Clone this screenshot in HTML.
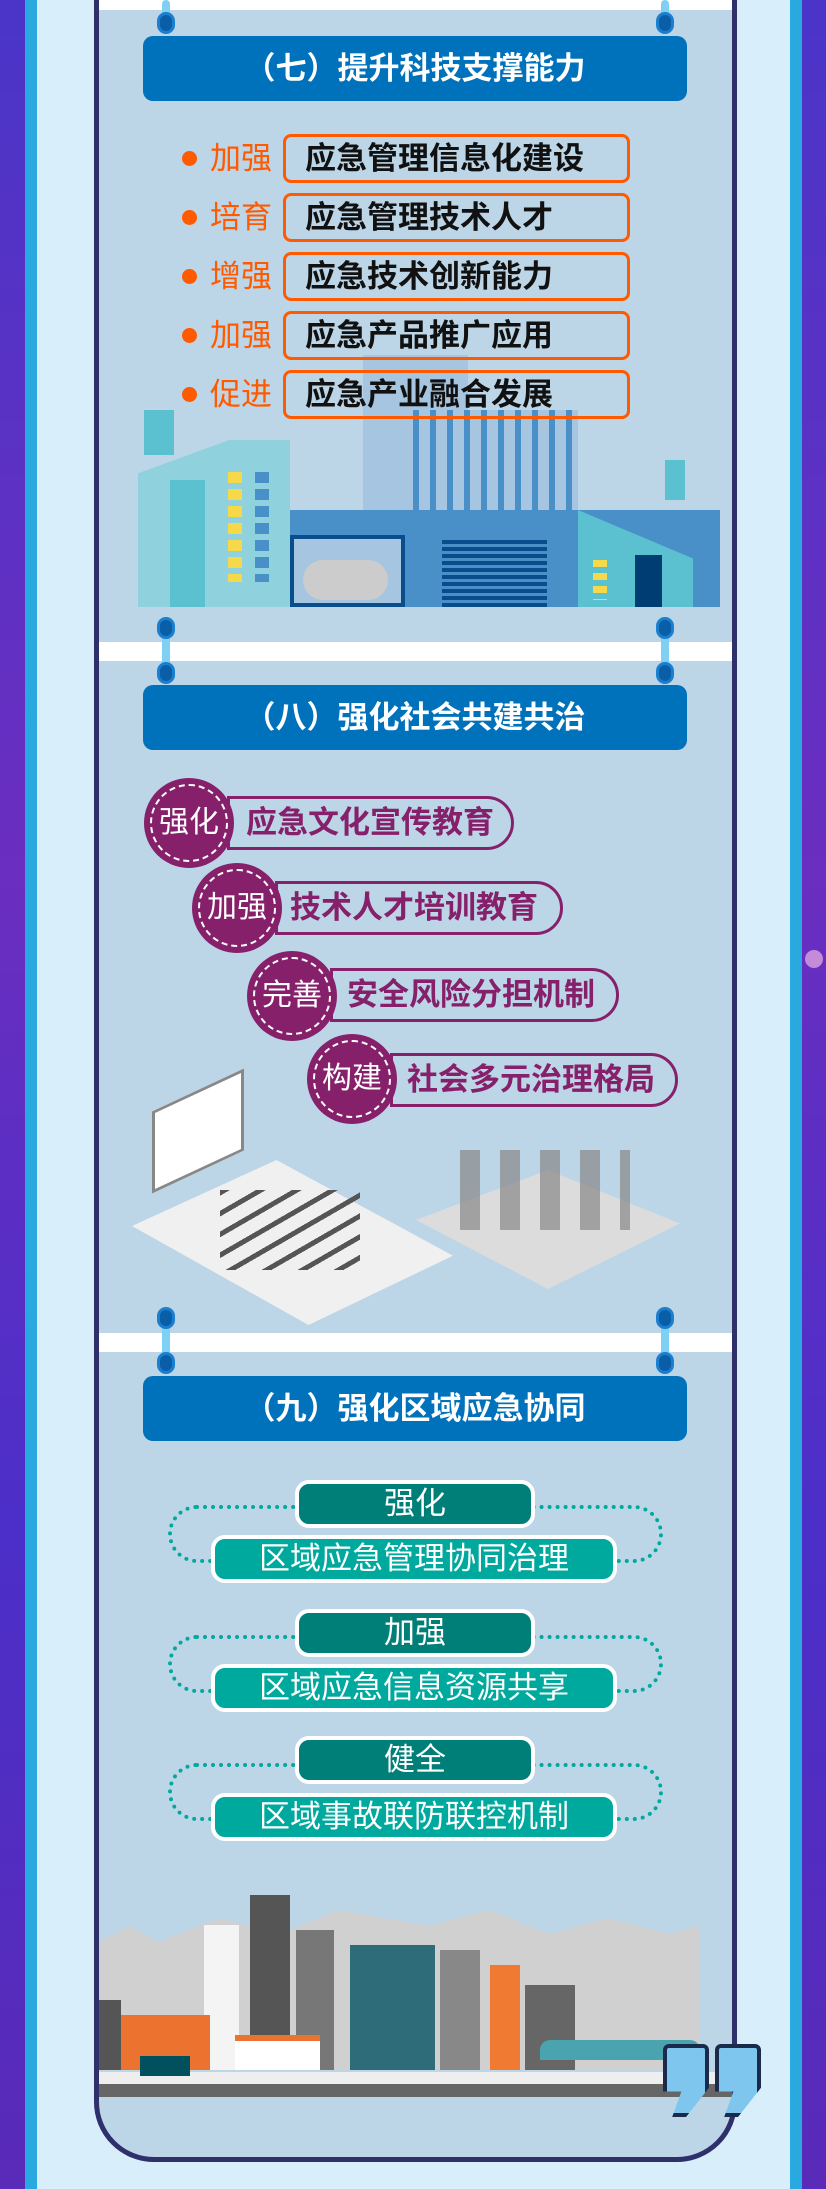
<!DOCTYPE html>
<html><head><meta charset="utf-8"><style>
*{margin:0;padding:0;box-sizing:border-box}
body{width:826px;height:2189px;position:relative;overflow:hidden;background:linear-gradient(180deg,#4a35c8,#6a2ec0 40%,#4b2fc8 70%,#5a2ab8);font-family:"Liberation Sans","Noto Sans CJK SC",sans-serif}
.a{position:absolute}
.hdr{position:absolute;left:143px;width:544px;height:65px;background:#0071bb;border-radius:10px;color:#fff;font-size:31px;font-weight:bold;text-align:center;line-height:65px;letter-spacing:0px}
.strip{position:absolute;left:99px;width:633px;height:19px;background:#fff}
.hook{position:absolute;width:18px;height:22px;border-radius:9px;background:#0a5ea8;border:3px solid #1b7fd0}
.hookbar{position:absolute;width:8px;background:#7fd0f5;border-radius:4px}
.row{position:absolute;left:283px;width:347px;height:49px;border:3px solid #ff5a00;border-radius:8px;font-size:31px;font-weight:bold;color:#111;line-height:43px;padding-left:19px;white-space:nowrap}
.dot{position:absolute;left:182px;width:15px;height:15px;border-radius:50%;background:#ff5a00}
.lab{position:absolute;left:210px;font-size:31px;color:#ff5a00;line-height:49px}
.pill{position:absolute;height:54px;border:3px solid #86206a;border-radius:0 27px 27px 0;color:#86206a;font-size:31px;font-weight:bold;line-height:48px;white-space:nowrap}
.circ{position:absolute;width:90px;height:90px;border-radius:50%;background:#86206a}
.circ div{position:absolute;left:6px;top:6px;width:78px;height:78px;border-radius:50%;border:2px dashed #fff;color:#fff;font-size:30px;text-align:center;line-height:74px;white-space:nowrap}
.tp{position:absolute;left:295px;width:240px;height:48px;background:#007f78;border:4px solid #fff;border-radius:14px;color:#fff;font-size:31px;text-align:center;line-height:40px}
.bp{position:absolute;left:211px;width:406px;height:48px;background:#00a99d;border:4px solid #fff;border-radius:14px;color:#fff;font-size:31px;text-align:center;line-height:40px;white-space:nowrap}
.loop{position:absolute;left:168px;width:495px;height:58px;border:4px dotted #00a99d;border-radius:30px}
</style></head><body>
<div class="a" style="left:25px;top:0;width:12px;height:2189px;background:#2aa9e0"></div>
<div class="a" style="left:790px;top:0;width:12px;height:2189px;background:#2aa9e0"></div>
<div class="a" style="left:37px;top:0;width:753px;height:2189px;background:#d8eefb"></div>
<div class="a" style="left:94px;top:-60px;width:643px;height:2222px;background:#bcd5e7;border:5px solid #2e2f6b;border-radius:0 0 60px 60px"></div>
<div class="a" style="left:805px;top:950px;width:18px;height:18px;border-radius:50%;background:#c58ad8"></div>

<div class="strip" style="top:0;height:10px"></div>
<div class="hookbar" style="left:162px;top:0;height:22px"></div>
<div class="hookbar" style="left:661px;top:0;height:22px"></div>
<div class="hook" style="left:157px;top:12px"></div>
<div class="hook" style="left:656px;top:12px"></div>

<div class="hdr" style="top:36px">（七）提升科技支撑能力</div>

<div class="a" style="left:138px;top:410px;width:555px;height:197px">
 <div class="a" style="left:6px;top:0;width:30px;height:45px;background:#5bc0cf"></div>
 <div class="a" style="left:0;top:30px;width:152px;height:167px;background:#8fd1dc;clip-path:polygon(0 20%,60% 0,100% 0,100% 100%,0 100%)"></div>
 <div class="a" style="left:32px;top:70px;width:35px;height:127px;background:#5bc0cf"></div>
 <div class="a" style="left:90px;top:62px;width:14px;height:110px;background:repeating-linear-gradient(#f5d94a 0 11px,transparent 11px 17px)"></div>
 <div class="a" style="left:117px;top:62px;width:14px;height:110px;background:repeating-linear-gradient(#4a90c8 0 11px,transparent 11px 17px)"></div>
 <div class="a" style="left:225px;top:-55px;width:105px;height:250px;background:#a5c5e0"></div>
 <div class="a" style="left:275px;top:0;width:165px;height:100px;background:repeating-linear-gradient(90deg,#4a90c8 0 6px,#a5c5e0 6px 17px)"></div>
 <div class="a" style="left:152px;top:100px;width:430px;height:97px;background:#4a90c8"></div>
 <div class="a" style="left:152px;top:125px;width:115px;height:72px;background:#a5c5e0;border:4px solid #0a4d8c"></div>
 <div class="a" style="left:165px;top:150px;width:85px;height:40px;background:#ccc;border-radius:20px"></div>
 <div class="a" style="left:304px;top:130px;width:105px;height:67px;background:repeating-linear-gradient(#0a4d8c 0 4px,#4a90c8 4px 7px)"></div>
 <div class="a" style="left:440px;top:100px;width:115px;height:97px;background:#5bc0cf;clip-path:polygon(0 0,100% 50%,100% 100%,0 100%)"></div>
 <div class="a" style="left:527px;top:50px;width:20px;height:40px;background:#5bc0cf"></div>
 <div class="a" style="left:497px;top:145px;width:27px;height:52px;background:#003d73"></div>
 <div class="a" style="left:455px;top:150px;width:14px;height:40px;background:repeating-linear-gradient(#f5d94a 0 7px,transparent 7px 13px)"></div>
</div>

<div class="dot" style="top:151px"></div><div class="lab" style="top:134px">加强</div><div class="row" style="top:134px">应急管理信息化建设</div>
<div class="dot" style="top:210px"></div><div class="lab" style="top:193px">培育</div><div class="row" style="top:193px">应急管理技术人才</div>
<div class="dot" style="top:269px"></div><div class="lab" style="top:252px">增强</div><div class="row" style="top:252px">应急技术创新能力</div>
<div class="dot" style="top:328px"></div><div class="lab" style="top:311px">加强</div><div class="row" style="top:311px">应急产品推广应用</div>
<div class="dot" style="top:387px"></div><div class="lab" style="top:370px">促进</div><div class="row" style="top:370px">应急产业融合发展</div>

<div class="strip" style="top:642px"></div>
<div class="hookbar" style="left:162px;top:630px;height:45px"></div>
<div class="hookbar" style="left:661px;top:630px;height:45px"></div>
<div class="hook" style="left:157px;top:617px"></div><div class="hook" style="left:656px;top:617px"></div>
<div class="hook" style="left:157px;top:662px"></div><div class="hook" style="left:656px;top:662px"></div>
<div class="hdr" style="top:685px">（八）强化社会共建共治</div>

<div class="pill" style="left:227px;top:796px;width:287px;padding-left:16px">应急文化宣传教育</div>
<div class="circ" style="left:144px;top:778px"><div>强化</div></div>
<div class="pill" style="left:275px;top:881px;width:288px;padding-left:12px">技术人才培训教育</div>
<div class="circ" style="left:192px;top:863px"><div>加强</div></div>
<div class="pill" style="left:330px;top:968px;width:289px;padding-left:14px">安全风险分担机制</div>
<div class="circ" style="left:247px;top:951px"><div>完善</div></div>
<div class="pill" style="left:390px;top:1053px;width:288px;padding-left:14px">社会多元治理格局</div>
<div class="circ" style="left:307px;top:1034px"><div>构建</div></div>

<div class="a" style="left:152px;top:1090px;width:92px;height:82px;background:#fff;border:3px solid #888;transform:skewY(-25deg)"></div>
<div class="a" style="left:132px;top:1160px;width:321px;height:165px;background:#f0f0f0;clip-path:polygon(0 40%,45% 0,100% 58%,55% 100%);"></div>
<div class="a" style="left:220px;top:1190px;width:140px;height:80px;background:repeating-linear-gradient(150deg,#555 0 5px,transparent 5px 18px)"></div>
<div class="a" style="left:416px;top:1170px;width:264px;height:119px;background:#dcdcdc;clip-path:polygon(0 42%,50% 0,100% 45%,50% 100%)"></div>
<div class="a" style="left:460px;top:1150px;width:170px;height:80px;background:repeating-linear-gradient(90deg,#888 0 20px,transparent 20px 40px);opacity:.7"></div>

<div class="strip" style="top:1333px"></div>
<div class="hookbar" style="left:162px;top:1320px;height:45px"></div>
<div class="hookbar" style="left:661px;top:1320px;height:45px"></div>
<div class="hook" style="left:157px;top:1307px"></div><div class="hook" style="left:656px;top:1307px"></div>
<div class="hook" style="left:157px;top:1352px"></div><div class="hook" style="left:656px;top:1352px"></div>
<div class="hdr" style="top:1376px">（九）强化区域应急协同</div>

<div class="loop" style="top:1505px"></div>
<div class="tp" style="top:1480px">强化</div><div class="bp" style="top:1535px">区域应急管理协同治理</div>
<div class="loop" style="top:1635px"></div>
<div class="tp" style="top:1609px">加强</div><div class="bp" style="top:1664px">区域应急信息资源共享</div>
<div class="loop" style="top:1763px"></div>
<div class="tp" style="top:1736px">健全</div><div class="bp" style="top:1793px">区域事故联防联控机制</div>

<div class="a" style="left:99px;top:1910px;width:600px;height:160px;background:#d0d0d0;clip-path:polygon(0 20%,5% 10%,10% 20%,20% 5%,30% 15%,40% 0,55% 10%,65% 0,75% 15%,85% 5%,95% 15%,100% 10%,100% 100%,0 100%)"></div>
<div class="a" style="left:204px;top:1925px;width:35px;height:145px;background:#f4f4f4"></div>
<div class="a" style="left:250px;top:1895px;width:40px;height:175px;background:#555"></div>
<div class="a" style="left:296px;top:1930px;width:38px;height:140px;background:#777"></div>
<div class="a" style="left:350px;top:1945px;width:85px;height:125px;background:#2f6c7a"></div>
<div class="a" style="left:440px;top:1950px;width:40px;height:120px;background:#888"></div>
<div class="a" style="left:490px;top:1965px;width:30px;height:105px;background:#f07a32"></div>
<div class="a" style="left:525px;top:1985px;width:50px;height:85px;background:#666"></div>
<div class="a" style="left:120px;top:2015px;width:90px;height:55px;background:#ec7230"></div>
<div class="a" style="left:99px;top:2000px;width:22px;height:70px;background:#555"></div>
<div class="a" style="left:235px;top:2035px;width:85px;height:35px;background:#fff;border-top:6px solid #ec7230"></div>
<div class="a" style="left:540px;top:2040px;width:160px;height:20px;background:#4aa4b0;border-radius:10px 10px 0 0"></div>
<div class="a" style="left:99px;top:2072px;width:633px;height:12px;background:#eee"></div>
<div class="a" style="left:99px;top:2084px;width:633px;height:13px;background:#666"></div>
<div class="a" style="left:140px;top:2056px;width:50px;height:20px;background:#00505e"></div>
<div class="a" style="left:663px;top:2044px;width:46px;height:73px;background:#7ec6ee;border:4px solid #1a2a4a;border-radius:6px;clip-path:polygon(0 0,100% 0,100% 60%,50% 100%,20% 100%,40% 65%,0 65%)"></div>
<div class="a" style="left:715px;top:2044px;width:46px;height:73px;background:#7ec6ee;border:4px solid #1a2a4a;border-radius:6px;clip-path:polygon(0 0,100% 0,100% 60%,50% 100%,20% 100%,40% 65%,0 65%)"></div>
</body></html>
